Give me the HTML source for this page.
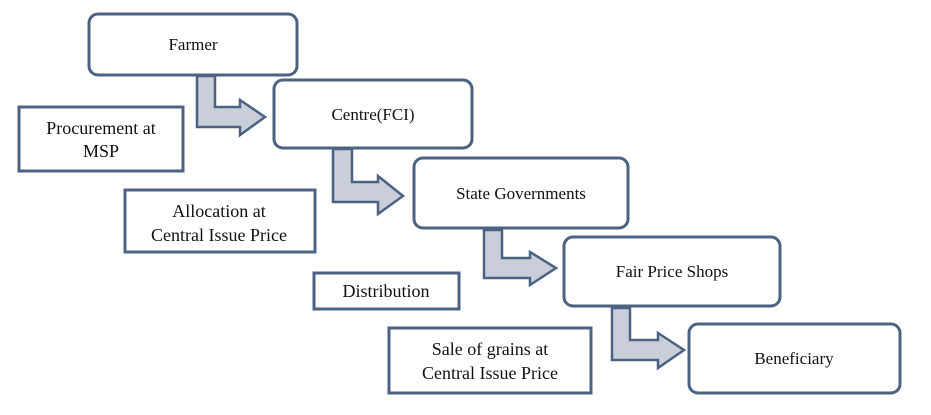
<!DOCTYPE html>
<html><head><meta charset="utf-8"><style>
body{margin:0;background:#fff;width:931px;height:415px;overflow:hidden}
svg{display:block}
.n{font-family:"Liberation Serif",serif;font-size:17px;fill:#111}
.l{font-family:"Liberation Serif",serif;font-size:18px;fill:#111}
</style></head><body>
<svg width="931" height="415" viewBox="0 0 931 415">
<g fill="#fff" stroke="#4c6283" stroke-width="3">
<rect x="89" y="14" width="208" height="61" rx="9"/>
<rect x="274" y="80" width="198" height="68" rx="9"/>
<rect x="414" y="158" width="214" height="70" rx="9"/>
<rect x="564" y="237" width="216" height="69" rx="9"/>
<rect x="689" y="324" width="211" height="69" rx="9"/>
<rect x="19" y="107" width="164" height="64"/>
<rect x="125" y="190" width="190" height="62"/>
<rect x="314" y="273" width="145" height="36"/>
<rect x="389" y="328" width="202" height="65"/>
</g>
<g fill="#c9ced8" stroke="#4c6283" stroke-width="2.5" stroke-linejoin="miter">
<polygon points="197,76 215,76 215,107 240,107 240,100 265,117 240,135 240,127 197,127"/>
<polygon points="333,149 352,149 352,182 378,182 378,176 403,196 378,214 378,202 333,202"/>
<polygon points="484,230 502,230 502,258 530,258 530,252 556,268 530,285 530,278 484,278"/>
<polygon points="612,308 630,308 630,340 658,340 658,333 684,350 658,368 658,360 612,360"/>
</g>
<text class="n" x="193" y="50" text-anchor="middle">Farmer</text>
<text class="n" x="373" y="120" text-anchor="middle">Centre(FCI)</text>
<text class="n" x="521" y="199" text-anchor="middle">State Governments</text>
<text class="n" x="672" y="277" text-anchor="middle">Fair Price Shops</text>
<text class="n" x="794" y="364" text-anchor="middle">Beneficiary</text>
<text class="l" x="101" y="134" text-anchor="middle">Procurement at</text>
<text class="l" x="101" y="157" text-anchor="middle">MSP</text>
<text class="l" x="219" y="217" text-anchor="middle">Allocation at</text>
<text class="l" x="219" y="241" text-anchor="middle">Central Issue Price</text>
<text class="l" x="386" y="297" text-anchor="middle">Distribution</text>
<text class="l" x="490" y="355" text-anchor="middle">Sale of grains at</text>
<text class="l" x="490" y="379" text-anchor="middle">Central Issue Price</text>
</svg>
</body></html>
